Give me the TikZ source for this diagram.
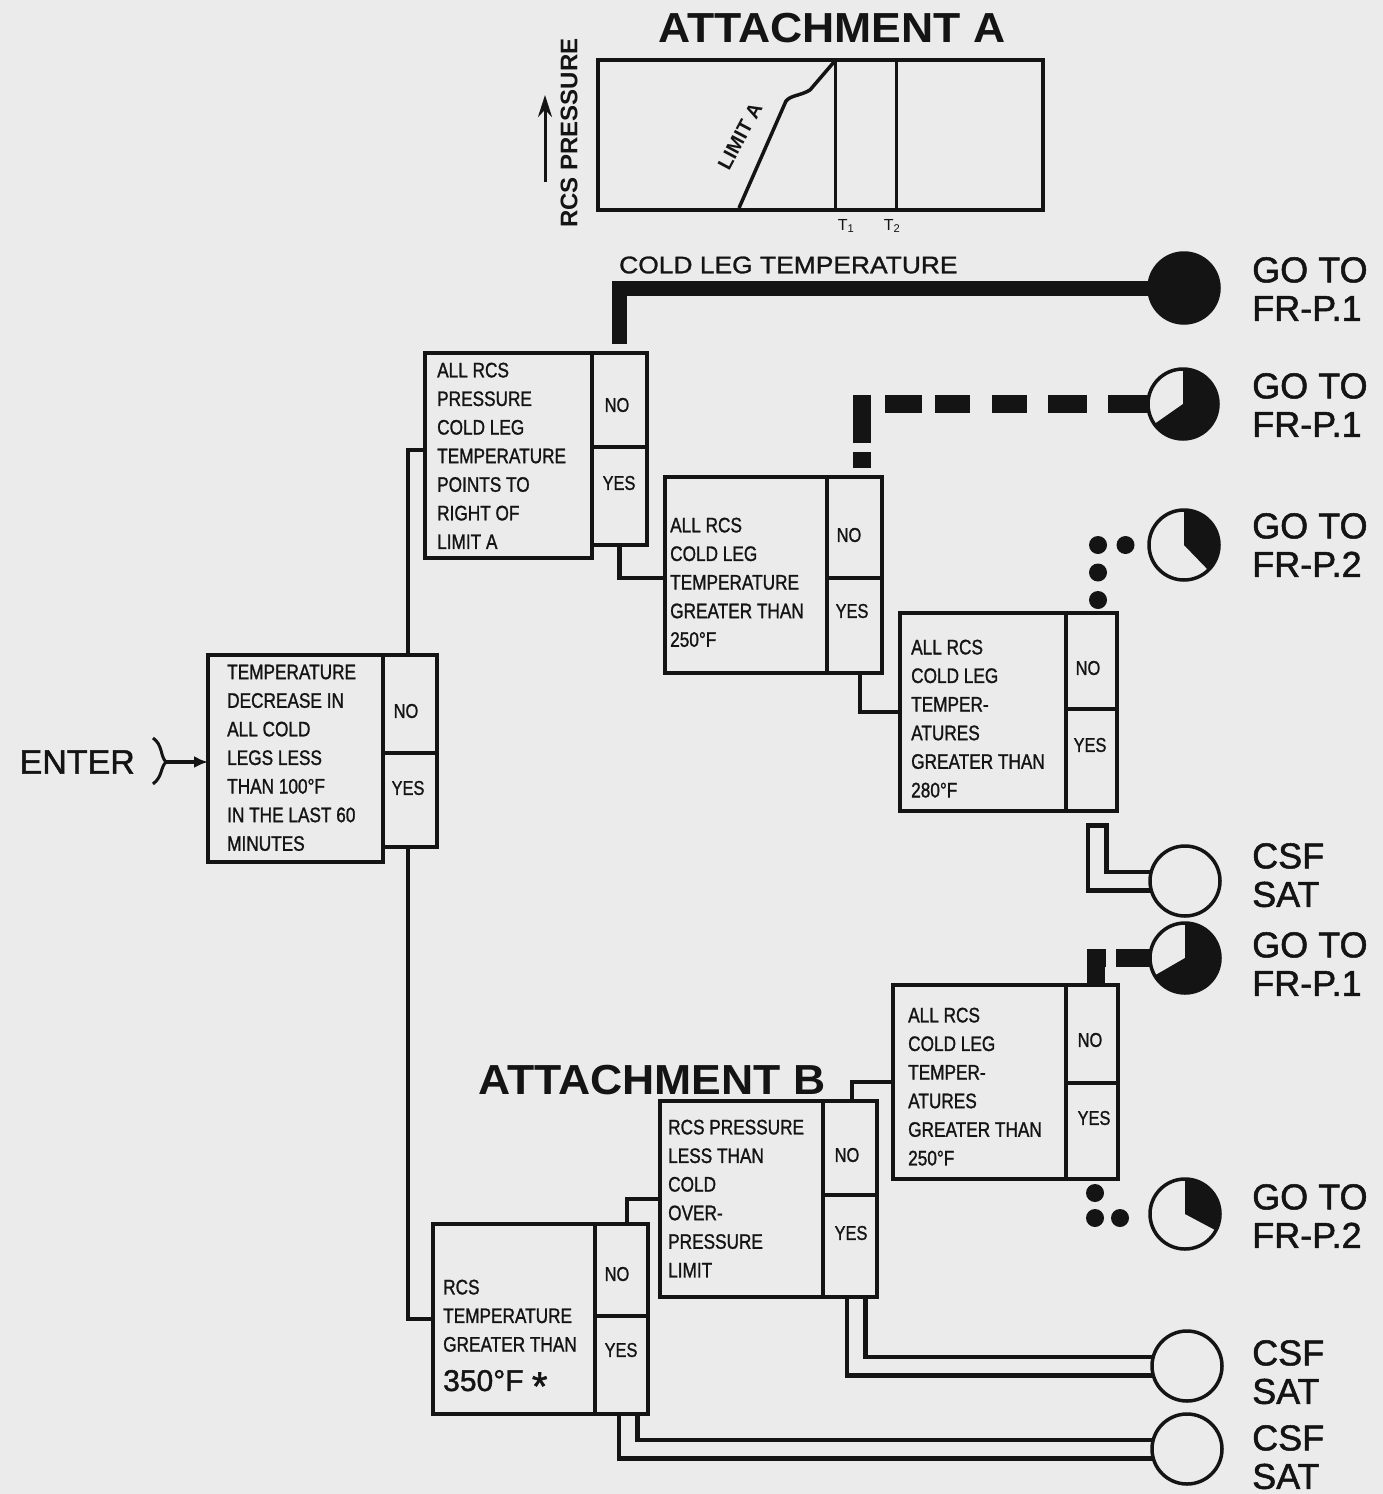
\documentclass[tikz,border=0pt]{standalone}
\usepackage{fontspec}
\setmainfont{Liberation Sans}
\newfontfamily\boxfont[FakeStretch=0.82,FakeBold=1.2]{Liberation Sans}
\newfontfamily\labfont[FakeBold=1.4]{Liberation Sans}
\newfontfamily\titlefont[FakeStretch=1.06]{Liberation Sans}
\usetikzlibrary{arrows.meta}
\definecolor{bg}{HTML}{EBEBEB}
\definecolor{ink}{HTML}{141414}
\tikzset{
  mainbox/.style={draw=ink, line width=4pt, rectangle, inner sep=0pt, outer sep=0pt, anchor=north west},
  sidebox/.style={draw=ink, line width=4pt, rectangle, inner sep=0pt, outer sep=0pt, anchor=north west},
  btxt/.style={font=\boxfont\fontsize{21}{28.6}\selectfont, align=left, inner sep=0pt, anchor=north west, text=ink},
  yn/.style={font=\boxfont\fontsize{20}{20}\selectfont, inner sep=0pt, text=ink},
  goal/.style={circle, draw=ink, line width=3.5pt, fill=bg, minimum size=70pt, inner sep=0pt, outer sep=0pt},
  glabel/.style={font=\labfont\fontsize{36}{38.5}\selectfont, align=left, inner sep=0pt, anchor=north west, text=ink},
  conn/.style={draw=ink, line width=4.5pt},
  thickconn/.style={draw=ink, line width=15pt},
  dashconn/.style={draw=ink, line width=18pt},
  dotconn/.style={draw=ink, line width=18pt, line cap=round},
  dblconn/.style={draw=ink, line width=4.5pt, double=bg, double distance=14pt},
}
\begin{document}
\begin{tikzpicture}[x=1pt,y=-1pt]
\fill[bg] (0,0) rectangle (1383,1494);
\useasboundingbox (0,0) rectangle (1383,1494);

% ---------- Attachment A chart ----------
\node[font=\titlefont\bfseries\fontsize{42}{42}\selectfont, inner sep=0pt, text=ink] (attA) at (832,28) {ATTACHMENT A};
\draw[ink, line width=4.5pt] (598,60) rectangle (1043,210);
\draw[ink, line width=3pt] (835,60) -- (835,210) (896,60) -- (896,210);
\draw[ink, line width=3.5pt, line join=round] (739,208) -- (786,101) .. controls (791,95) and (800,96) .. (810,90) -- (834,62);
\node[font=\bfseries\fontsize{20}{20}\selectfont, rotate=62, inner sep=0pt, text=ink] (lim) at (740,136) {LIMIT A};
\node[font=\bfseries\fontsize{24}{24}\selectfont, rotate=90, inner sep=0pt, text=ink] (rcsp) at (569,133) {RCS PRESSURE};
\draw[ink, line width=3pt, -{Stealth[length=22pt,width=14pt]}] (545,182) -- (545,95);
\node[font=\fontsize{16}{16}\selectfont, inner sep=0pt, text=ink] (t1) at (846,226) {T\textsubscript{1}};
\node[font=\fontsize{16}{16}\selectfont, inner sep=0pt, text=ink] (t2) at (892,226) {T\textsubscript{2}};

% ---------- Enter ----------
\node[font=\labfont\fontsize{34}{34}\selectfont, anchor=east, inner sep=0pt, text=ink] (enter) at (135,762) {ENTER};
\draw[ink, line width=3pt] (153,738) .. controls (163,745) and (160,756) .. (166,762) .. controls (160,768) and (163,776) .. (153,784);
\coordinate (brk) at (166,762);

% ---------- Box 1 ----------
\node[mainbox, minimum width=175pt, minimum height=207pt] (b1) at (208,655) {};
\node[sidebox, minimum width=54pt, minimum height=98pt] (b1n) at (383,655) {};
\node[sidebox, minimum width=54pt, minimum height=94pt] (b1y) at (383,753) {};
\node[btxt] (b1t) at (227,664.5) {TEMPERATURE\\DECREASE IN\\ALL COLD\\LEGS LESS\\THAN 100°F\\IN THE LAST 60\\MINUTES};
\node[yn] (b1no) at (406,711) {NO};
\node[yn] (b1yes) at (408,788) {YES};

% ---------- Box 2 ----------
\node[mainbox, minimum width=167pt, minimum height=205pt] (b2) at (425,353) {};
\node[sidebox, minimum width=55pt, minimum height=94pt] (b2n) at (592,353) {};
\node[sidebox, minimum width=55pt, minimum height=98pt] (b2y) at (592,447) {};
\node[btxt] (b2t) at (437,362.5) {ALL RCS\\PRESSURE\\COLD LEG\\TEMPERATURE\\POINTS TO\\RIGHT OF\\LIMIT A};
\node[yn] (b2no) at (617,405) {NO};
\node[yn] (b2yes) at (619,483) {YES};

% ---------- Box 3 ----------
\node[mainbox, minimum width=162pt, minimum height=196pt] (b3) at (665,477) {};
\node[sidebox, minimum width=55pt, minimum height=101pt] (b3n) at (827,477) {};
\node[sidebox, minimum width=55pt, minimum height=95pt] (b3y) at (827,578) {};
\node[btxt] (b3t) at (670,517.5) {ALL RCS\\COLD LEG\\TEMPERATURE\\GREATER THAN\\250°F};
\node[yn] (b3no) at (849,535) {NO};
\node[yn] (b3yes) at (852,611) {YES};

% ---------- Box 4 ----------
\node[mainbox, minimum width=166pt, minimum height=198pt] (b4) at (900,613) {};
\node[sidebox, minimum width=51pt, minimum height=96pt] (b4n) at (1066,613) {};
\node[sidebox, minimum width=51pt, minimum height=102pt] (b4y) at (1066,709) {};
\node[btxt] (b4t) at (911,639.5) {ALL RCS\\COLD LEG\\TEMPER-\\ATURES\\GREATER THAN\\280°F};
\node[yn] (b4no) at (1088,668) {NO};
\node[yn] (b4yes) at (1090,745) {YES};

% ---------- Box 5 ----------
\node[mainbox, minimum width=173pt, minimum height=194pt] (b5) at (893,985) {};
\node[sidebox, minimum width=52pt, minimum height=98pt] (b5n) at (1066,985) {};
\node[sidebox, minimum width=52pt, minimum height=96pt] (b5y) at (1066,1083) {};
\node[btxt] (b5t) at (908,1007.5) {ALL RCS\\COLD LEG\\TEMPER-\\ATURES\\GREATER THAN\\250°F};
\node[yn] (b5no) at (1090,1040) {NO};
\node[yn] (b5yes) at (1094,1118) {YES};

% ---------- Box 6 ----------
\node[mainbox, minimum width=162pt, minimum height=190pt] (b6) at (433,1224) {};
\node[sidebox, minimum width=53pt, minimum height=92pt] (b6n) at (595,1224) {};
\node[sidebox, minimum width=53pt, minimum height=98pt] (b6y) at (595,1316) {};
\node[btxt] (b6t) at (443,1279.5) {RCS\\TEMPERATURE\\GREATER THAN};
\node[font=\labfont\fontsize{30}{30}\selectfont, anchor=west, inner sep=0pt, text=ink] (b6t2) at (443,1385) {350°F \raisebox{-0.3em}{\fontsize{40}{40}\selectfont*}};
\node[yn] (b6no) at (617,1274) {NO};
\node[yn] (b6yes) at (621,1350) {YES};

% ---------- Box 7 ----------
\node[mainbox, minimum width=163pt, minimum height=196pt] (b7) at (660,1101) {};
\node[sidebox, minimum width=54pt, minimum height=94pt] (b7n) at (823,1101) {};
\node[sidebox, minimum width=54pt, minimum height=102pt] (b7y) at (823,1195) {};
\node[btxt] (b7t) at (668,1119.5) {RCS PRESSURE\\LESS THAN\\COLD\\OVER-\\PRESSURE\\LIMIT};
\node[yn] (b7no) at (847,1155) {NO};
\node[yn] (b7yes) at (851,1233) {YES};

\node[font=\titlefont\bfseries\fontsize{42}{42}\selectfont, inner sep=0pt, anchor=west, text=ink] (attB) at (478,1080) {ATTACHMENT B};

% ---------- Goal circles (placed; drawn after connectors below) ----------
\path (1184,288) coordinate (g1c) (1183,404) coordinate (g2c) (1184,545) coordinate (g3c)
      (1185,881) coordinate (g4c) (1185,958) coordinate (g5c) (1185,1214) coordinate (g6c)
      (1187,1366) coordinate (g7c) (1187,1449) coordinate (g8c);
\foreach \i in {1,...,8} { \node[circle, minimum size=70pt, inner sep=0pt, outer sep=0pt] (g\i) at (g\i c) {}; }

% ---------- Connectors ----------
\draw[conn, line width=3.5pt, -{Latex[length=14pt,width=12pt]}] (brk) -- (b1.west |- brk);
\draw[conn] ([xshift=25pt]b1n.north west) |- ([yshift=5.5pt]b2.west);
\draw[conn] ([xshift=25pt]b1y.south west) |- (b6.west);
\draw[conn] (b2y.south) |- ([yshift=-3pt]b3.west);
\draw[conn] ([xshift=5.5pt]b3y.south) |- (b4.west);
\draw[conn] ([xshift=5.5pt]b6n.north) |- (b7.west);
\draw[conn] ([xshift=2pt]b7n.north) |- (b5.west);

\draw[thickconn, shorten <=9pt] (b2n.north) |- (g1.west);
\node[font=\boxfont\fontsize{24}{24}\selectfont, anchor=west, inner sep=0pt, text=ink] (clt) at (619,265) {\addfontfeature{FakeStretch=1.1}COLD LEG TEMPERATURE};

\draw[dashconn, dash pattern=on 16pt off 9pt on 48pt off 14pt on 37pt off 13pt on 35pt off 22pt on 35pt off 21pt on 39pt off 21pt on 42pt off 9pt, dash phase=352pt] ([xshift=7.5pt]b3n.north) |- (g2.west);
\draw[dotconn, dash pattern=on 0pt off 27.5pt, dash phase=14.5pt] ([xshift=6.5pt]b4n.north) |- (g3.west);
\draw[ink, line width=23pt] ([xshift=5.5pt,yshift=-12pt]b4y.south) |- (g4.west);
\draw[bg, line width=14pt, shorten <=4.5pt] ([xshift=5.5pt,yshift=-12pt]b4y.south) |- (g4.west);
\draw[dashconn, dash pattern=on 37pt off 10pt on 60pt] ([xshift=4pt]b5n.north) |- (g5.west);
\draw[dotconn, dash pattern=on 0pt off 25pt, dash phase=11pt, shorten >=6pt] ([xshift=3pt]b5y.south) |- ([yshift=-4pt]g6.west);
\draw[dblconn] ([xshift=6pt,yshift=-2pt]b7y.south) |- (g7.west);
\draw[dblconn] ([xshift=6.5pt,yshift=-2pt]b6y.south) |- (g8.west);

% ---------- Goal circles drawn ----------
\foreach \i in {1,...,8} { \node[goal] at (g\i c) {}; }
\fill[ink] (g1c) circle[radius=36pt];
\fill[ink] (g2c) -- ++(215:35pt) arc[start angle=215, end angle=450, radius=35pt] -- cycle;
\fill[ink] (g3c) -- ++(-46:35pt) arc[start angle=-46, end angle=90, radius=35pt] -- cycle;
\fill[ink] (g5c) -- ++(210:35pt) arc[start angle=210, end angle=450, radius=35pt] -- cycle;
\fill[ink] (g6c) -- ++(-28:35pt) arc[start angle=-28, end angle=90, radius=35pt] -- cycle;

% ---------- Goal labels ----------
\node[glabel] (l1) at (1252,257) {GO TO\\FR-P.1};
\node[glabel] (l2) at (1252,373) {GO TO\\FR-P.1};
\node[glabel] (l3) at (1252,513) {GO TO\\FR-P.2};
\node[glabel] (l4) at (1252,843) {CSF\\SAT};
\node[glabel] (l5) at (1252,932) {GO TO\\FR-P.1};
\node[glabel] (l6) at (1252,1184) {GO TO\\FR-P.2};
\node[glabel] (l7) at (1252,1340) {CSF\\SAT};
\node[glabel] (l8) at (1252,1425) {CSF\\SAT};
\end{tikzpicture}
\end{document}
